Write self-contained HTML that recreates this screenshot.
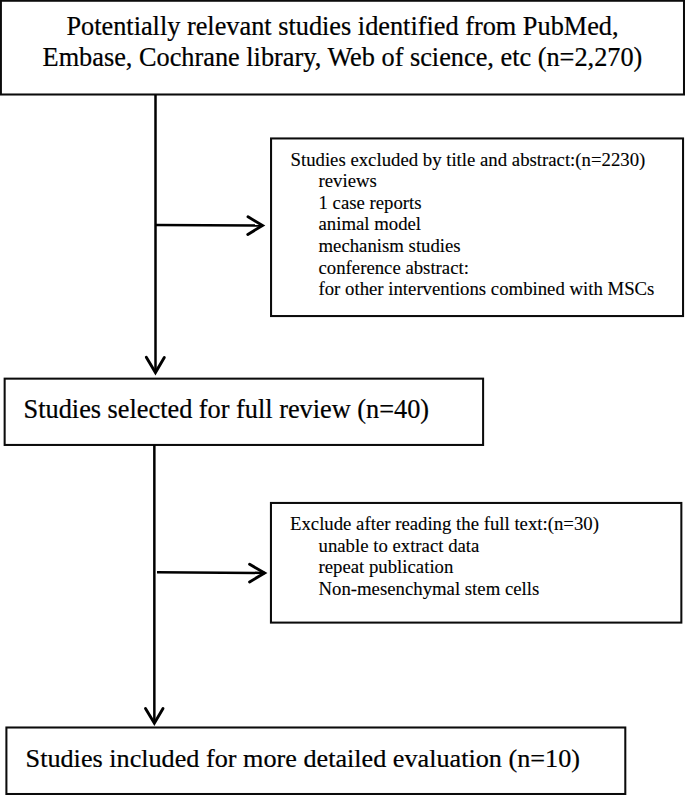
<!DOCTYPE html>
<html><head><meta charset="utf-8">
<style>
html,body{margin:0;padding:0;}
body{width:685px;height:795px;position:relative;overflow:hidden;background:#fff;font-family:"Liberation Serif",serif;color:#000;}
.box{position:absolute;box-sizing:border-box;border:2px solid #0b0b0b;}
.t{position:absolute;white-space:pre;-webkit-text-stroke:0.35px #000;}
.big{font-size:26.3px;line-height:30.9px;-webkit-text-stroke:0.22px #000;}
.sm{font-size:18.75px;line-height:21.55px;-webkit-text-stroke:0.12px #000;}
svg{position:absolute;left:0;top:0;}
</style></head><body>
<div class="t big" style="left:0;width:685px;top:11.6px;text-align:center;">Potentially relevant studies identified from PubMed,
Embase, Cochrane library, Web of science, etc (n=2,270)</div>

<div class="t sm" style="left:290.5px;top:148.8px;">Studies excluded by title and abstract:(n=2230)</div>
<div class="t sm" style="left:318.5px;top:170.35px;">reviews
1 case reports
animal model
mechanism studies
conference abstract:
for other interventions combined with MSCs</div>

<div class="t big" style="left:23.6px;top:394.6px;">Studies selected for full review (n=40)</div>

<div class="t sm" style="left:290px;top:513.2px;">Exclude after reading the full text:(n=30)</div>
<div class="t sm" style="left:318.5px;top:534.75px;">unable to extract data
repeat publication
Non-mesenchymal stem cells</div>

<div class="t big" style="left:25.6px;top:744.3px;font-size:26.2px;">Studies included for more detailed evaluation (n=10)</div>

<svg width="685" height="795" viewBox="0 0 685 795">
<g stroke="#0b0b0b" fill="none" stroke-width="2.05">
<rect x="0.9" y="0.75" width="683.1" height="93.75"/>
<rect x="271.05" y="138.45" width="412" height="177.6"/>
<rect x="4.65" y="378.65" width="478.45" height="66.3"/>
<rect x="270.95" y="502.95" width="410.4" height="119.65"/>
<rect x="6.4" y="727.5" width="618.9" height="66.5"/>
</g>
<g stroke="#000" fill="none" stroke-linejoin="miter">
<g stroke-width="2.5">
<line x1="155.5" y1="95" x2="155.5" y2="373"/>
<line x1="156" y1="224.95" x2="263" y2="225.6"/>
<line x1="154.35" y1="445" x2="154.35" y2="723"/>
<line x1="157" y1="572.2" x2="265" y2="572.95"/>
</g>
<g stroke-width="2.9" stroke-linecap="round">
<polyline points="146.3,357.3 155.45,372.6 164.3,357.5"/>
<polyline points="248,216.8 262.5,225.5 247.8,234.4"/>
<polyline points="145.5,708.4 154.35,723.2 163,708.4"/>
<polyline points="249.6,564.3 264.6,572.95 249.6,581.9"/>
</g>
</g>
</svg>
</body></html>
